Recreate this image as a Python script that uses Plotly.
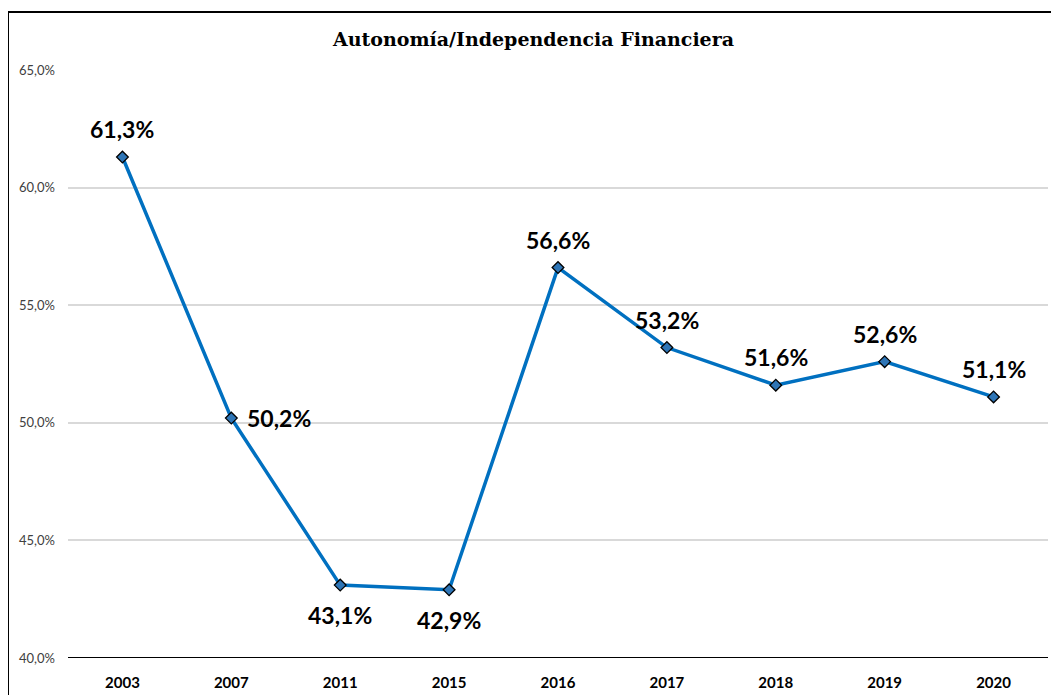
import plotly.graph_objects as go

# Datos del gráfico
years = ["2003", "2007", "2011", "2015", "2016", "2017", "2018", "2019", "2020"]
autonomia = [61.3, 50.2, 43.1, 42.9, 56.6, 53.2, 51.6, 52.6, 51.1]
label_pos = ["top", "right", "bottom", "bottom", "top", "top", "top", "top", "top"]
y_ticks = [40, 45, 50, 55, 60, 65]

fig = go.Figure()

fig.add_trace(go.Scatter(
    x=years,
    y=[v / 100 for v in autonomia],
    mode="lines+markers",
    line=dict(color="#0070C0", width=3.5),
    marker=dict(symbol="diamond", size=9, color="#2E75B6",
                line=dict(color="black", width=1.3)),
    showlegend=False,
    hoverinfo="skip",
))

# etiquetas de datos (en eje de categorías la x de la anotación es el índice)
for i, (v, pos) in enumerate(zip(autonomia, label_pos)):
    txt = "<b>" + f"{v:.1f}%".replace(".", ",") + "</b>"
    if pos == "top":
        fig.add_annotation(x=i, y=v / 100, text=txt, showarrow=False, yshift=28)
    elif pos == "bottom":
        fig.add_annotation(x=i, y=v / 100, text=txt, showarrow=False, yshift=-30)
    else:
        fig.add_annotation(x=i, y=v / 100, text=txt, showarrow=False,
                           xanchor="left", xshift=14, yshift=0)

fig.update_annotations(font=dict(family="Lato, sans-serif", size=23, color="black"))

# marco del gráfico
fig.add_shape(type="rect", xref="paper", yref="paper",
              x0=-60 / 980, x1=1.1, y0=-0.2, y1=646 / 588,
              line=dict(color="black", width=2), fillcolor="rgba(0,0,0,0)")

# la página añade 8 px de margen, por eso 1051x687
fig.update_layout(
    width=1051, height=687,
    margin=dict(l=60, r=11, t=62, b=37, autoexpand=False),
    plot_bgcolor="white", paper_bgcolor="white",
    separators=",.",
    title=dict(text="<b>Autonomía/Independencia Financiera</b>",
               x=0.5, xanchor="center", y=1 - 31 / 687, yanchor="middle",
               font=dict(family="DejaVu Serif, serif", size=19, color="black")),
    xaxis=dict(
        type="category",
        range=[-0.5, len(years) - 0.5],
        showgrid=False, showline=False, ticks="",
        tickfont=dict(family="Lato, sans-serif", size=15, color="black"),
        ticklabelstandoff=14, automargin=False,
    ),
    yaxis=dict(
        range=[0.40, 0.65],
        tickvals=[t / 100 for t in y_ticks],
        tickformat=".1%",
        showgrid=True, gridcolor="#d9d9d9", gridwidth=1.5,
        zeroline=False, showline=False, ticks="",
        tickfont=dict(family="Lato, sans-serif", size=13, color="#404040"),
        ticklabelstandoff=12, automargin=False,
    ),
)
fig.update_xaxes(ticktext=[f"<b>{y}</b>" for y in years], tickvals=years)

# eje X negro en 40%
fig.add_shape(type="line", xref="paper", yref="y", x0=0, x1=1, y0=0.40, y1=0.40,
              line=dict(color="black", width=2))

fig.write_html("out.html")
